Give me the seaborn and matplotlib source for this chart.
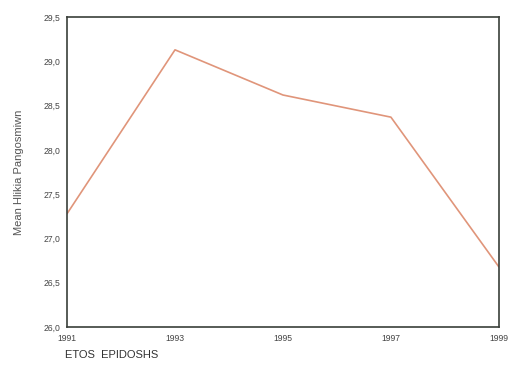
import pandas as pd
import matplotlib
matplotlib.use("Agg")
import matplotlib.pyplot as plt
import seaborn as sns

# data
years = [1991, 1993, 1995, 1997, 1999]
mean_values = [27.28, 29.13, 28.62, 28.37, 26.68]
y_ticks = [26.0, 26.5, 27.0, 27.5, 28.0, 28.5, 29.0, 29.5]

df = pd.DataFrame({"ETOS EPIDOSHS": years, "Mean Hlikia Pangosmiwn": mean_values})

sns.set_style("white")
plt.rcParams["font.family"] = ["Liberation Sans", "DejaVu Sans"]

fig = plt.figure(figsize=(5.08, 3.79), dpi=100)
ax = fig.add_axes([0.132, 0.137, 0.850, 0.818])

sns.lineplot(data=df, x="ETOS EPIDOSHS", y="Mean Hlikia Pangosmiwn",
             color="#e0957a", linewidth=1.2, ax=ax)

ax.set_xlim(1991, 1999)
ax.set_ylim(26.0, 29.5)
ax.set_xticks(years)
ax.set_xticklabels([str(y) for y in years])
ax.set_yticks(y_ticks)
ax.set_yticklabels([f"{v:.1f}".replace(".", ",") for v in y_ticks])
ax.tick_params(axis="both", labelsize=6.2, colors="#444444", length=2,
               width=0.8, direction="inout", pad=4)

for s in ax.spines.values():
    s.set_visible(True)
    s.set_color("#3a3f3a")
    s.set_linewidth(1.2)

ax.set_xlabel("")
ax.set_ylabel("Mean Hlikia Pangosmiwn", fontsize=8, color="#555555", labelpad=14)
fig.text(0.128, 0.055, "ETOS  EPIDOSHS", fontsize=8, color="#333333", ha="left")

plt.savefig("out.png", dpi=100)
